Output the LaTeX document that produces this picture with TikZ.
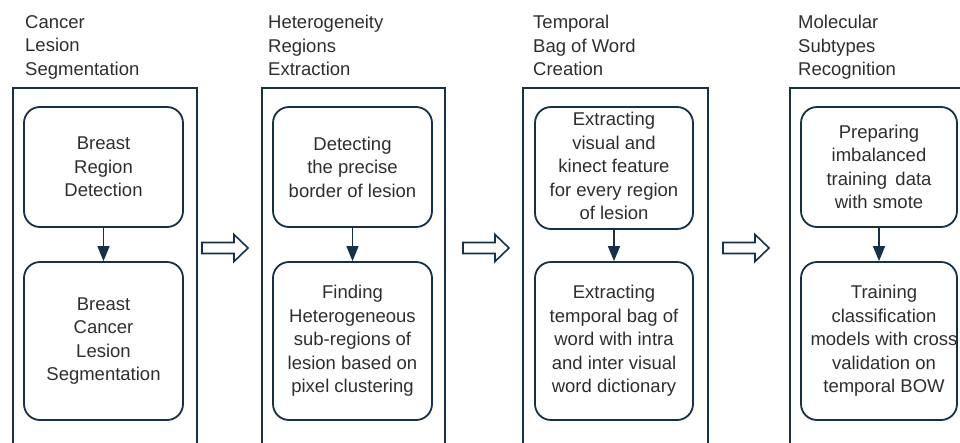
\documentclass[tikz,border=0pt]{standalone}
\usepackage{fontspec}
\setmainfont{Liberation Sans}
\usetikzlibrary{arrows.meta}
\definecolor{navy}{HTML}{16304A}
\definecolor{txt}{HTML}{2E2E2E}
\begin{document}
\begin{tikzpicture}[x=1pt,y=-1pt,
  font=\fontsize{18.5}{23.5}\selectfont,
  frame/.style={draw=navy,line width=1.8pt,anchor=north west,minimum height=400pt,inner sep=0pt},
  inbox/.style={draw=navy,line width=1.8pt,rounded corners=16pt,inner sep=0pt},
  txtnode/.style={text=txt,align=center,inner sep=0pt},
  title/.style={text=txt,align=left,anchor=north west,inner sep=0pt},
  conn/.style={navy,line width=1.5pt,-{Triangle[width=12pt,length=15pt]}},
  hollowarrow/.pic={\draw[navy,line width=1.6pt,line join=miter,fill=white]
     (0,-5.5) -- (32,-5.5) -- (32,-13.5) -- (46,0) -- (32,13.5) -- (32,5.5) -- (0,5.5) -- cycle;}
]
\useasboundingbox (0,0) rectangle (960,442);

% column frames
\node[frame,minimum width=184pt] (f1) at (12,87) {};
\node[frame,minimum width=183pt] (f2) at (261,87) {};
\node[frame,minimum width=185pt] (f3) at (522,87) {};
\node[frame,minimum width=220pt] (f4) at (789,87) {};

% titles
\node[title] (h1) at (25,15) {Cancer\\Lesion\\Segmentation};
\node[title] (h2) at (268,15) {Heterogeneity\\Regions\\Extraction};
\node[title] (h3) at (533,15) {Temporal\\Bag of Word\\Creation};
\node[title] (h4) at (798,15) {Molecular\\Subtypes\\Recognition};

% inner boxes
\node[inbox,minimum width=159pt,minimum height=120pt] (b11) at (103.5,167) {};
\node[inbox,minimum width=159pt,minimum height=158pt] (b12) at (103.5,341) {};
\node[inbox,minimum width=159pt,minimum height=120pt] (b21) at (352.5,167) {};
\node[inbox,minimum width=159pt,minimum height=158pt] (b22) at (352.5,341) {};
\node[inbox,minimum width=158pt,minimum height=122pt] (b31) at (614,168) {};
\node[inbox,minimum width=158pt,minimum height=158pt] (b32) at (614,341) {};
\node[inbox,minimum width=156pt,minimum height=120pt] (b41) at (879,167) {};
\node[inbox,minimum width=156pt,minimum height=158pt] (b42) at (879,341) {};

% texts
\node[txtnode] (t11) at (b11.center) {Breast\\Region\\Detection};
\node[txtnode] (t12) at (b12.center) {Breast\\Cancer\\Lesion\\Segmentation};
\node[txtnode] (t21) at (b21.center) {Detecting\\the precise\\border of lesion};
\node[txtnode] (t22) at (b22.center) {Finding\\Heterogeneous\\sub-regions of\\lesion based on\\pixel clustering};
\node[txtnode] (t31) at ([yshift=2pt]b31.center) {Extracting\\visual and\\kinect feature\\for every region\\of lesion};
\node[txtnode] (t32) at (b32.center) {Extracting\\temporal bag of\\word with intra\\and inter visual\\word dictionary};
\node[txtnode] (t41) at (b41.center) {Preparing\\imbalanced\\training\hspace{0.45em}data\\with smote};
\node[txtnode] (t42) at ([xshift=5pt]b42.center) {Training\\classification\\models with cross\\validation on\\temporal BOW};

% connectors
\draw[conn] (b11) -- (b12);
\draw[conn] (b21) -- (b22);
\draw[conn] (b31) -- (b32);
\draw[conn] (b41) -- (b42);

% hollow arrows between columns
\pic at (202,248) {hollowarrow};
\pic at (463,248) {hollowarrow};
\pic at (723,248) {hollowarrow};
\end{tikzpicture}
\end{document}
